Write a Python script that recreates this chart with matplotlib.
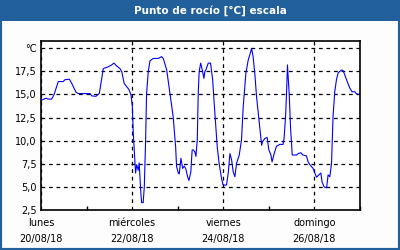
import numpy as np
import matplotlib
matplotlib.use("Agg")
import matplotlib.pyplot as plt
from matplotlib.patches import Rectangle

# hours since lunes 20/08/18 00:00, dew point in degC
hours = [0, 2.6, 3.8, 5.6, 6.8, 9.1, 11.7, 12.6, 14.9, 16.2, 18.4, 19.6,
         25.8, 26.7, 28.9, 30.7, 32.8, 35.4, 37.2, 38.4, 39.8, 41.6,
         42.5, 43.8, 45.1, 46.3, 47.4, 48.1, 48.6, 49.5, 49.8, 50.4, 51.2,
         51.7, 52.6, 53.0, 53.8, 54.4, 55.1, 55.6, 56.5, 57.4, 59.1, 61.7,
         63.5, 64.4, 66.2, 67.9, 69.6, 70.9, 71.4, 72.3, 72.8, 73.7, 74.6,
         75.4, 76.2, 77.2, 77.9, 78.9, 79.6, 80.2, 81.0, 81.6, 82.3, 82.8,
         83.3, 84.1, 85.1, 85.8, 86.3, 86.8, 88.1, 89.3, 90.4, 91.1, 92.1,
         92.8, 93.8, 95.1, 95.9, 97.7, 98.6, 99.5, 100.4, 101.2, 102.1,
         103.0, 104.4, 105.6, 106.5, 107.9, 109.1, 110.4, 110.9, 111.7,
         112.6, 113.5, 114.4, 115.3, 116.2, 116.7, 117.9, 119.1, 120.0,
         121.1, 121.7, 122.8, 124.0, 125.8, 127.5, 128.0, 128.8, 129.3,
         129.8, 130.2, 130.7, 131.4, 132.3, 134.6, 135.4, 136.8, 138.0,
         139.8, 140.7, 141.6, 143.3, 144.2, 145.1, 146.3, 147.4, 148.0,
         149.1, 150.4, 151.2, 152.1, 153.0, 153.8, 154.7, 155.6, 156.5,
         158.3, 159.1, 160.9, 162.6, 163.8, 165.3, 166.2, 167.0]
dewpoint = [14.35, 14.6, 14.5, 14.5, 14.95, 16.4, 16.4, 16.6, 16.65, 16.2,
            15.25, 15.1, 15.1, 14.85, 14.8, 15.1, 17.8, 18.0, 18.2, 18.4,
            18.1, 17.8, 17.5, 16.2, 15.85, 15.55, 14.95, 13.7, 10.8, 7.7,
            6.5, 7.4, 6.8, 7.6, 4.3, 3.3, 3.3, 5.0, 10.1, 15.1, 17.5, 18.65,
            18.9, 18.9, 19.1, 18.9, 17.65, 15.1, 12.6, 9.35, 7.2, 6.5, 6.4,
            8.1, 7.0, 7.25, 7.0, 6.1, 5.7, 6.6, 9.0, 9.0, 8.8, 8.3, 10.1,
            15.1, 17.5, 18.4, 17.5, 16.75, 17.5, 17.65, 18.4, 18.4, 16.6,
            14.4, 11.5, 9.35, 7.55, 5.9, 5.2, 5.2, 6.5, 8.6, 7.9, 6.65, 6.1,
            7.55, 8.45, 10.1, 13.7, 17.3, 18.7, 19.6, 20.0, 19.1, 17.3, 14.8,
            13.0, 11.15, 9.5, 9.9, 10.25, 10.35, 9.0, 8.45, 7.7, 8.6, 9.4,
            9.6, 9.6, 10.25, 12.6, 15.1, 18.2, 16.9, 15.1, 11.5, 8.45, 8.45,
            8.6, 8.7, 8.45, 8.35, 7.7, 7.4, 7.0, 6.5, 6.05, 6.3, 6.5, 5.55,
            5.0, 4.9, 6.3, 6.1, 7.55, 12.6, 15.3, 16.6, 17.35, 17.65, 17.6,
            16.6, 15.7, 15.3, 15.3, 15.05, 15.05]

yticks = [2.5, 5.0, 7.5, 10.0, 12.5, 15.0, 17.5, 20.0]
ytick_labels = ["2,5", "5,0", "7,5", "10,0", "12,5", "15,0", "17,5", "°C"]
xticks = [0, 48, 96, 144]
xtick_labels = ["lunes\n20/08/18", "miércoles\n22/08/18",
                "viernes\n24/08/18", "domingo\n26/08/18"]
xminor = [24, 72, 120, 168]

frame_blue = "#21609b"

fig = plt.figure(figsize=(4, 2.5), dpi=100)
fig.patch.set_facecolor("#fdfdfd")

# frame and title bar
fig.add_artist(Rectangle((0, 0), 1, 1, transform=fig.transFigure,
                         facecolor="none", edgecolor=frame_blue, lw=3))
fig.add_artist(Rectangle((0, 1 - 21 / 250), 1, 21 / 250,
                         transform=fig.transFigure, facecolor=frame_blue,
                         edgecolor="none"))
fig.text(0.525, 1 - 10.5 / 250, "Punto de rocío [°C] escala", color="white",
         fontsize=7.5, fontweight="bold", ha="center", va="center")

ax = fig.add_axes([41 / 400, 40 / 250, 319 / 400, 169 / 250])
ax.set_facecolor("white")
ax.plot(hours, dewpoint, color="#0000ff", lw=0.8)

ax.set_xlim(0, 168)
ax.set_ylim(2.5, 20.79)
ax.set_yticks(yticks)
ax.set_yticklabels(ytick_labels)
ax.set_xticks(xticks)
ax.set_xticklabels(xtick_labels, linespacing=1.7)
ax.set_xticks(xminor, minor=True)

ax.grid(True, color="black", linestyle=(0, (3, 3)), lw=0.9)
ax.tick_params(axis="y", length=0, pad=3, labelsize=7)
ax.tick_params(axis="x", which="major", length=0, pad=6, labelsize=7)
ax.tick_params(axis="x", which="minor", direction="in", length=3,
               width=1, color="black")
for sp in ax.spines.values():
    sp.set_linewidth(1.2)
    sp.set_color("black")

fig.savefig("out.png", dpi=100, facecolor=fig.get_facecolor())
